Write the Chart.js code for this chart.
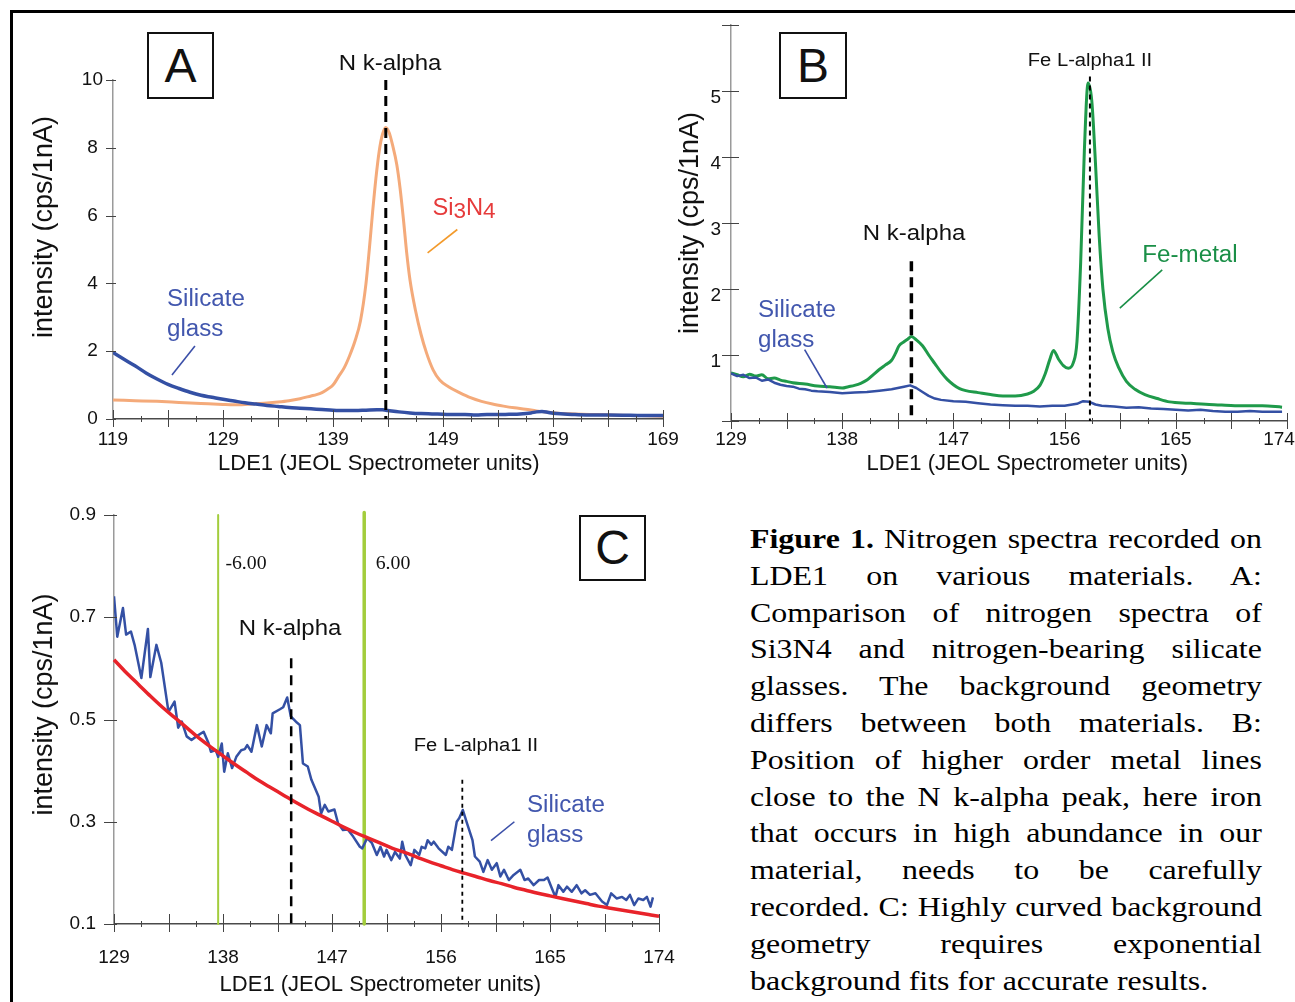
<!DOCTYPE html>
<html>
<head>
<meta charset="utf-8">
<script src="https://cdn.jsdelivr.net/npm/chart.js"></script>
<style>
html,body{margin:0;padding:0;background:#fff;overflow:hidden;width:1295px;height:1002px;}
#page{position:relative;width:1295px;height:1002px;overflow:hidden;font-family:'Liberation Sans',Arial,Helvetica,sans-serif;color:#111;}
canvas{position:absolute;}
.frame{position:absolute;left:10px;top:10px;width:1320px;height:1020px;border-top:3px solid #000;border-left:3px solid #000;}
.lbl{position:absolute;white-space:nowrap;line-height:1;}
.c{transform:translate(-50%,-50%) scaleX(var(--sx,1));}
.l2{transform-origin:0 0;transform:scaleX(var(--sx,1));}
.sub{position:relative;top:3px;font-size:0.95em;}
.box{position:absolute;border:2px solid #111;box-sizing:border-box;display:flex;align-items:center;justify-content:center;font-size:48px;line-height:1;background:#fff;}
.serif{font-family:'Liberation Serif','Times New Roman',serif;}
#caption{position:absolute;left:750px;top:521px;width:449px;transform-origin:0 0;transform:scaleX(1.14);font-family:'Liberation Serif','Times New Roman',serif;font-size:28px;line-height:36.8px;color:#000;}
#caption div{text-align:justify;text-align-last:justify;}
#caption div.last{text-align-last:left;}
</style>
</head>
<body>
<div id="page">
  <div class="frame"></div>
  <canvas id="cA" width="700" height="470" style="left:0px;top:20px"></canvas>
  <canvas id="cB" width="660" height="487" style="left:660px;top:3px"></canvas>
  <canvas id="cC" width="700" height="517" style="left:0px;top:485px"></canvas>

  <!-- panel A texts -->
  <div class="box" style="left:147px;top:32px;width:67px;height:67px">A</div>
  <div class="lbl c" style="left:390px;top:63px;font-size:22px;--sx:1.09">N k-alpha</div>
  <div class="lbl c" style="left:464px;top:207px;font-size:23px;color:#E63B3B;--sx:1.03">Si<span class="sub">3</span>N<span class="sub">4</span></div>
  <div class="lbl l2" style="left:167px;top:283px;font-size:23px;line-height:30px;color:#4257AE;--sx:1.05">Silicate<br>glass</div>

  <!-- panel B texts -->
  <div class="box" style="left:779px;top:32px;width:68px;height:67px">B</div>
  <div class="lbl c" style="left:1090px;top:60px;font-size:18px;--sx:1.12">Fe L-alpha1 II</div>
  <div class="lbl c" style="left:914px;top:233px;font-size:22px;--sx:1.09">N k-alpha</div>
  <div class="lbl c" style="left:1190px;top:254px;font-size:23px;color:#1A8F47;--sx:1.05">Fe-metal</div>
  <div class="lbl l2" style="left:758px;top:294px;font-size:23px;line-height:30px;color:#4257AE;--sx:1.05">Silicate<br>glass</div>

  <!-- panel C texts -->
  <div class="box" style="left:579px;top:515px;width:67px;height:66px">C</div>
  <div class="lbl c serif" style="left:246px;top:563px;font-size:18px;--sx:1.1">-6.00</div>
  <div class="lbl c serif" style="left:393px;top:563px;font-size:18px;--sx:1.1">6.00</div>
  <div class="lbl c" style="left:290px;top:628px;font-size:22px;--sx:1.09">N k-alpha</div>
  <div class="lbl c" style="left:476px;top:745px;font-size:18px;--sx:1.12">Fe L-alpha1 II</div>
  <div class="lbl l2" style="left:527px;top:789px;font-size:23px;line-height:30px;color:#4257AE;--sx:1.05">Silicate<br>glass</div>

  <div id="caption">
    <div><b>Figure 1.</b> Nitrogen spectra recorded on</div>
    <div>LDE1 on various materials. A:</div>
    <div>Comparison of nitrogen spectra of</div>
    <div>Si3N4 and nitrogen-bearing silicate</div>
    <div>glasses. The background geometry</div>
    <div>differs between both materials. B:</div>
    <div>Position of higher order metal lines</div>
    <div>close to the N k-alpha peak, here iron</div>
    <div>that occurs in high abundance in our</div>
    <div>material, needs to be carefully</div>
    <div>recorded. C: Highly curved background</div>
    <div>geometry requires exponential</div>
    <div class="last">background fits for accurate results.</div>
  </div>
</div>

<script>
// ================= DATA =================
// Panel A : Si3N4 vs silicate glass
const aSi3N4X = [119,121,123,125,127,129,130,131,132,133,134,135,136,137,137.5,138,138.5,139,139.5,140,140.5,141,141.5,142,142.3,142.6,142.9,143.2,143.5,143.8,144.1,144.4,144.8,145.1,145.4,145.7,146,146.5,147,147.5,148.1,148.7,149.5,150.5,151.5,152.5,153.5,154.5,155.5,156.5,157.5,158.5,159.5,161,163,165,167,169];
const aSi3N4Y = [0.56,0.54,0.52,0.49,0.46,0.43,0.42,0.43,0.45,0.47,0.5,0.54,0.6,0.68,0.72,0.78,0.88,1.0,1.25,1.5,1.86,2.3,2.9,4.0,5.0,6.1,7.1,7.9,8.4,8.6,8.45,8.1,7.5,6.8,5.9,4.9,4.1,3.2,2.5,1.95,1.45,1.15,0.95,0.78,0.63,0.52,0.44,0.38,0.33,0.29,0.24,0.2,0.17,0.15,0.13,0.11,0.1,0.08];
const aGlassX = [119,120,121,122,123,124,125,126,127,128,129,130,131,132,133,134,135,136,137,138,139,140,141,142,143,143.5,144,145,146,147,148,149,150,151,152,153,154,155,156,157,157.5,158,158.5,159,160,161,162,164,166,168,169];
const aGlassY = [1.96,1.76,1.57,1.36,1.18,1.02,0.9,0.79,0.7,0.64,0.58,0.53,0.48,0.44,0.4,0.37,0.34,0.32,0.3,0.28,0.26,0.25,0.25,0.26,0.27,0.27,0.25,0.21,0.18,0.16,0.15,0.14,0.13,0.13,0.12,0.13,0.13,0.14,0.15,0.18,0.21,0.22,0.2,0.17,0.15,0.13,0.12,0.12,0.11,0.1,0.1];
const aXLabels = ['119','129','139','149','159','169'];
const aYLabels = ['0','2','4','6','8','10'];

// Panel B : Fe-metal vs silicate glass
const bFeMetalX = [129,129.5,130,130.5,131,131.5,132,132.5,133,133.5,134,135,136,137,138,138.5,139,139.5,140,140.5,141,141.5,142,142.3,142.6,143,143.3,143.6,144,144.5,145,145.5,146,146.5,147,147.5,148,149,150,151,152,153,153.5,154,154.4,154.8,155.1,155.5,155.9,156.3,156.7,157.0,157.3,157.6,157.9,158.2,158.5,158.8,159.1,159.5,159.9,160.4,161,161.7,162.5,163.5,164.5,166,167.7,169,170.5,172,173.6];
const bFeMetalY = [0.73,0.7,0.67,0.71,0.68,0.7,0.64,0.65,0.62,0.6,0.58,0.56,0.53,0.52,0.5,0.52,0.54,0.57,0.62,0.7,0.78,0.85,0.92,1.02,1.14,1.2,1.24,1.28,1.23,1.14,1.0,0.87,0.74,0.63,0.55,0.49,0.46,0.43,0.4,0.38,0.38,0.41,0.45,0.54,0.7,0.93,1.07,0.94,0.84,0.8,0.88,1.2,2.4,4.1,5.12,4.85,3.9,2.8,2.0,1.4,1.05,0.8,0.6,0.48,0.4,0.34,0.29,0.27,0.25,0.24,0.23,0.23,0.21];
const bGlassX = [129,129.5,130,130.5,131,131.5,132,132.5,133,133.5,134,134.5,135,135.5,136,137,138,139,140,141,142,142.5,143,143.5,144,144.5,145,145.5,146,147,148,149,150,151,152,153,154,155,156,157,157.5,158,158.5,159,160,161,162,163,164,165,166,167,168,169,170,171,172,173,173.6];
const bGlassY = [0.72,0.68,0.7,0.65,0.66,0.61,0.63,0.58,0.55,0.53,0.52,0.49,0.48,0.46,0.45,0.44,0.42,0.43,0.44,0.46,0.48,0.5,0.52,0.54,0.5,0.44,0.38,0.34,0.32,0.3,0.29,0.27,0.25,0.24,0.23,0.23,0.22,0.23,0.23,0.26,0.3,0.29,0.25,0.23,0.22,0.2,0.21,0.19,0.18,0.17,0.16,0.17,0.15,0.14,0.14,0.15,0.14,0.14,0.14];
const bXLabels = ['129','138','147','156','165','174   '];
const bYLabels = ['1','2','3','4','5'];

// Panel C : silicate glass with exponential background fit
const cGlassX = [129.0,129.27,129.74,130.0,130.4,130.7,131.26,131.8,132.0,132.5,132.9,133.5,134.0,134.3,134.6,135.0,135.4,135.8,136.4,136.8,137.0,137.4,137.6,137.9,138.1,138.4,138.75,139.1,139.5,139.8,140.0,140.35,140.8,141.2,141.6,141.95,142.1,142.7,142.97,143.3,143.6,144.1,144.35,144.6,145.0,145.3,145.9,146.1,146.4,146.7,147.2,147.5,147.9,148.3,148.75,149.3,149.5,149.9,150.3,150.7,151.0,151.3,151.5,151.9,152.2,152.6,152.8,153.05,153.5,153.8,154.2,154.4,154.7,154.9,155.2,155.4,155.8,156.4,156.6,156.9,157.3,157.5,157.8,158.15,158.6,158.8,159.2,159.5,159.85,160.2,160.6,160.9,161.2,161.6,162.0,162.55,162.9,163.2,163.65,164.1,164.5,164.8,165.1,165.45,165.7,166.1,166.4,166.8,167.2,167.6,167.9,168.3,168.75,169.3,169.7,170.05,170.5,170.95,171.3,171.6,171.95,172.3,172.7,173.0,173.3,173.5];
const cGlassY = [0.741,0.662,0.718,0.666,0.672,0.646,0.581,0.677,0.583,0.646,0.611,0.515,0.535,0.484,0.496,0.467,0.460,0.467,0.476,0.454,0.437,0.440,0.427,0.453,0.398,0.434,0.405,0.427,0.440,0.442,0.450,0.437,0.489,0.447,0.489,0.473,0.512,0.520,0.524,0.543,0.506,0.494,0.489,0.414,0.408,0.382,0.349,0.316,0.333,0.320,0.324,0.297,0.284,0.285,0.271,0.251,0.248,0.268,0.258,0.235,0.251,0.232,0.245,0.225,0.241,0.228,0.261,0.235,0.215,0.245,0.235,0.251,0.248,0.264,0.255,0.261,0.248,0.235,0.251,0.245,0.300,0.307,0.323,0.297,0.264,0.232,0.222,0.202,0.225,0.206,0.219,0.193,0.206,0.186,0.196,0.206,0.186,0.189,0.176,0.186,0.186,0.191,0.173,0.153,0.176,0.163,0.173,0.163,0.176,0.160,0.166,0.157,0.160,0.144,0.137,0.160,0.150,0.153,0.147,0.157,0.137,0.150,0.147,0.153,0.134,0.152];
const cFitX = [129,130,131,132,133,134,135,136,137,138,139,140,141,142,143,144,145,146,147,148,149,150,151,152,153,154,155,156,157,158,159,160,161,162,163,164,165,166,167,168,169,170,171,172,173,174,174.6];
const cFitY = [0.617,0.592,0.569,0.546,0.524,0.504,0.484,0.464,0.446,0.429,0.412,0.396,0.380,0.366,0.352,0.338,0.325,0.313,0.301,0.289,0.278,0.268,0.258,0.248,0.240,0.231,0.222,0.214,0.206,0.199,0.192,0.185,0.179,0.172,0.166,0.160,0.155,0.150,0.145,0.140,0.135,0.131,0.127,0.123,0.119,0.115,0.113];
const cXLabels = ['129','138','147','156','165','174'];
const cYLabels = ['0.1','0.3','0.5','0.7','0.9'];

// Peak positions / markers (x, yTop, yBottom) and leader lines (x0,y0,x1,y1) in data units
const aNKalpha = [143.8, 10, 0];
const aLeaderSi3N4 = [150.3, 5.59, 147.6, 4.9];
const aLeaderGlass = [126.45, 2.15, 124.36, 1.3];
const bNKalpha = [143.6, 2.42, 0];
const bFeL = [158.05, 5.22, 0];
const bLeaderFe = [163.9, 2.29, 160.47, 1.71];
const bLeaderGlass = [134.96, 1.08, 136.77, 0.5];
const cNKalpha = [143.63, 0.62, 0.1];
const cFeL = [157.76, 0.382, 0.1];
const cWindowLow = [137.6, 0.9, 0.1];
const cWindowHigh = [149.66, 0.905, 0.1];
const cLeaderGlass = [162.06, 0.30, 160.13, 0.263];

// ================= HELPERS =================
Chart.defaults.font.family = "'Liberation Sans', Arial, Helvetica, sans-serif";
Chart.defaults.color = '#111';

function pts(xs, ys) { return xs.map((x, i) => ({x: x, y: ys[i]})); }
function vline(m) { return [{x: m[0], y: m[1]}, {x: m[0], y: m[2]}]; }
function seg(s) { return [{x: s[0], y: s[1]}, {x: s[2], y: s[3]}]; }
function ds(data, color, width, extra) {
  return Object.assign({data: data, borderColor: color, backgroundColor: color, borderWidth: width,
    pointRadius: 0, pointHoverRadius: 0, fill: false, tension: 0, borderCapStyle: 'butt', borderJoinStyle: 'round'}, extra || {});
}
function labelFor(v, labels) {
  for (const l of labels) { if (Math.abs(parseFloat(l) - v) < 1e-6) return String(l); }
  return '';
}

const tickMarks = {
  id: 'tickMarks',
  afterDatasetsDraw(chart, args, o) {
    if (!o || o.xMajor === undefined) return;
    const ctx = chart.ctx, xs = chart.scales.x, ys = chart.scales.y;
    ctx.save();
    ctx.strokeStyle = o.color;
    ctx.lineWidth = 1;
    const axisY = xs.top, axisX = ys.right;
    xs.ticks.forEach(t => {
      const k = (t.value - xs.min) / o.xMajor;
      const major = Math.abs(k - Math.round(k)) < 1e-6;
      const px = Math.round(xs.getPixelForValue(t.value)) + 0.5;
      const up = major ? o.xUp : o.minor, dn = major ? o.xDown : o.minor;
      ctx.beginPath(); ctx.moveTo(px, axisY - up); ctx.lineTo(px, axisY + dn); ctx.stroke();
    });
    ys.ticks.forEach(t => {
      const py = Math.round(ys.getPixelForValue(t.value)) + 0.5;
      ctx.beginPath(); ctx.moveTo(axisX - o.yLeft, py); ctx.lineTo(axisX + o.yRight, py); ctx.stroke();
    });
    ctx.restore();
  }
};
Chart.register(tickMarks);

function makeOptions(c) {
  return {
    responsive: false, maintainAspectRatio: false, animation: false, events: [],
    layout: {padding: c.padding},
    plugins: {legend: {display: false}, tooltip: {enabled: false}, tickMarks: c.marks},
    scales: {
      x: {
        type: 'linear', min: c.xMin, max: c.xMax,
        afterFit(s) { s.height = c.xHeight; },
        ticks: {stepSize: c.xStep, autoSkip: false, maxRotation: 0, minRotation: 0, padding: c.xPad,
          font: {size: 19}, color: '#111', callback: (v) => labelFor(v, c.xLabels)},
        grid: {display: false, drawTicks: false, tickLength: 0},
        border: {display: true, color: '#4a4a4a', width: 1.5},
        title: {display: true, text: c.xTitle, font: {size: 22}, color: '#111', padding: {top: 0, bottom: c.xTitlePad}}
      },
      y: {
        type: 'linear', min: c.yMin, max: c.yMax,
        afterFit(s) { s.width = c.yWidth; },
        ticks: {stepSize: c.yStep, autoSkip: false, padding: c.yPad, crossAlign: c.yAlign, labelOffset: c.yLabelOffset,
          font: {size: 19}, color: '#111', callback: (v) => labelFor(v, c.yLabels)},
        grid: {display: false, drawTicks: false, tickLength: 0},
        border: {display: true, color: '#9a9a9a', width: 1.5},
        title: {display: true, text: c.yTitle, font: {size: 27}, color: '#111', padding: {top: c.yTitlePad, bottom: 0}}
      }
    }
  };
}

const BLUE = '#3450A4', ORANGE = '#F4AA7A', GREEN = '#1F9A4A', RED = '#E8232A', LIME = '#A3CD3C';
const SMOOTH = {cubicInterpolationMode: 'monotone'};

// ================= PANEL A =================
new Chart(document.getElementById('cA'), {
  type: 'line',
  data: {datasets: [
    ds(vline(aNKalpha), '#000', 3, {borderDash: [10, 6], order: 0}),
    ds(seg(aLeaderSi3N4), '#F39A2B', 1.6, {order: 0}),
    ds(seg(aLeaderGlass), '#3B4FA8', 1.6, {order: 0}),
    ds(pts(aGlassX, aGlassY), BLUE, 3.5, Object.assign({order: 1}, SMOOTH)),
    ds(pts(aSi3N4X, aSi3N4Y), ORANGE, 3, Object.assign({order: 2}, SMOOTH))
  ]},
  options: makeOptions({
    padding: {left: 20, top: 60, right: 37, bottom: 1},
    xMin: 119, xMax: 169, xStep: 2.5, xLabels: aXLabels, xHeight: 70, xPad: 9,
    xTitle: 'LDE1 (JEOL Spectrometer units)   ', xTitlePad: 11.8,
    yMin: 0, yMax: 10, yStep: 2, yLabels: aYLabels, yWidth: 93, yPad: 10, yAlign: 'center', yLabelOffset: 0,
    yTitle: '      intensity (cps/1nA)', yTitlePad: 8.8,
    marks: {xMajor: 5, xUp: 9, xDown: 8, minor: 3, yLeft: 7, yRight: 3, color: '#444'}
  })
});

// ================= PANEL B =================
new Chart(document.getElementById('cB'), {
  type: 'line',
  data: {datasets: [
    ds(vline(bNKalpha), '#000', 3.5, {borderDash: [10, 6], order: 0}),
    ds(vline(bFeL), '#000', 2, {borderDash: [5, 4], order: 0, clip: false}),
    ds(seg(bLeaderFe), '#1A8F47', 1.6, {order: 0}),
    ds(seg(bLeaderGlass), '#3B4FA8', 1.6, {order: 0}),
    ds(pts(bGlassX, bGlassY), BLUE, 2.5, {order: 1}),
    ds(pts(bFeMetalX, bFeMetalY), GREEN, 3, Object.assign({order: 2}, SMOOTH))
  ]},
  options: makeOptions({
    padding: {left: 14, top: 22, right: 33, bottom: 1},
    xMin: 129, xMax: 174, xStep: 2.25, xLabels: bXLabels, xHeight: 68, xPad: 7,
    xTitle: '      LDE1 (JEOL Spectrometer units)', xTitlePad: 11.8,
    yMin: 0, yMax: 6, yStep: 1, yLabels: bYLabels, yWidth: 57, yPad: 10, yAlign: 'near', yLabelOffset: 7,
    yTitle: 'intensity (cps/1nA)', yTitlePad: 0,
    marks: {xMajor: 4.5, xUp: 8, xDown: 8, minor: 3, yLeft: 9, yRight: 8, color: '#444'}
  })
});

// ================= PANEL C =================
new Chart(document.getElementById('cC'), {
  type: 'line',
  data: {datasets: [
    ds(vline(cNKalpha), '#000', 2.5, {borderDash: [10, 7], order: 0}),
    ds(vline(cFeL), '#000', 1.8, {borderDash: [4, 4], order: 0}),
    ds(seg(cLeaderGlass), '#3B4FA8', 1.6, {order: 0}),
    ds(pts(cFitX, cFitY), RED, 3.5, Object.assign({order: 1, clip: false}, SMOOTH)),
    ds(pts(cGlassX, cGlassY), BLUE, 2.5, {order: 2}),
    ds(vline(cWindowLow), LIME, 2, {order: 3, clip: false}),
    ds(vline(cWindowHigh), LIME, 3.5, {order: 3, clip: false})
  ]},
  options: makeOptions({
    padding: {left: 20, top: 30, right: 41, bottom: 1},
    xMin: 129, xMax: 174, xStep: 2.25, xLabels: cXLabels, xHeight: 77, xPad: 22,
    xTitle: 'LDE1 (JEOL Spectrometer units)  ', xTitlePad: 2.8,
    yMin: 0.1, yMax: 0.9, yStep: 0.2, yLabels: cYLabels, yWidth: 94, yPad: 18, yAlign: 'near', yLabelOffset: 0,
    yTitle: '    intensity (cps/1nA)', yTitlePad: 8.8,
    marks: {xMajor: 4.5, xUp: 10, xDown: 8, minor: 3, yLeft: 10, yRight: 3, color: '#444'}
  })
});
</script>
</body>
</html>
